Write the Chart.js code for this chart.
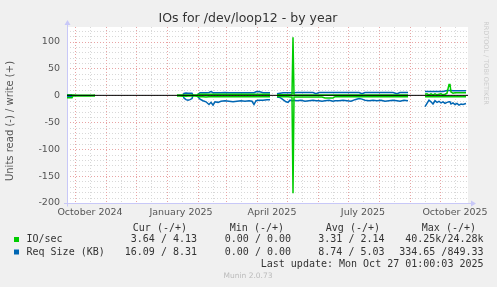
<!DOCTYPE html>
<html>
<head>
<meta charset="utf-8">
<script src="https://cdn.jsdelivr.net/npm/chart.js@4.4.1/dist/chart.umd.min.js"></script>
<style>
    html, body { margin: 0; padding: 0; background: #f0f0f0; }
    #wrap { width: 497px; height: 287px; }
</style>
</head>
<body>
<div id="wrap"><canvas id="ioChart" width="497" height="287"></canvas></div>

<script>
    // x = days since 23 Sep 2024, null = no data
    const days     = [0, 2, 5, 6, 10, 14, 18, 22, 26, 28, 60,
                      110, 113, 116, 117, 119, 121, 123, 125, 126, 128, 130,
                      131, 133, 136, 139, 142, 144, 146, 148, 151, 154, 158, 162, 166, 170, 174, 178, 182, 185, 187, 189, 192, 196, 200, 203, 206,
                      210, 213, 216, 219, 221, 223, 225, 226, 227, 230, 234, 238, 242, 246, 249, 252, 255, 258, 262, 266, 268, 272, 276, 280, 284, 288, 292, 295, 298, 302, 306, 310, 314, 318, 322, 326, 330, 333, 337, 341, 350,
                      358, 360, 362, 364, 366, 368, 370, 372, 374, 376, 378, 380, 382, 383, 384, 386, 388, 390, 392, 394, 396, 399];
    const ioWrite  = [0.5, 0.5, 0.5, 0.5, 0.3, 0.3, 0.3, 0.3, 0.3, 0.5, null,
                      0.5, 0.5, 0.5, 0.5, 0.8, 0.5, 0.6, 0.5, 0.5, 0.5, 0.5,
                      2, 2, 2, 2, 2, 2, 2, 2, 2, 2, 2, 2, 2, 2, 2, 2, 2, 2, 2, 2, 2, 2, 2, 2, null,
                      1, 1, 1, 1, 1, 1, 1, 108, 1, 0.5, 0.5, 0.5, 0.5, 0.5, 0.5, 0.5, 0.5, 0.5, 0.5, 0.5, 0.5, 0.5, 0.5, 0.5, 0.5, 0.5, 0.5, 0.5, 0.5, 0.5, 0.5, 0.5, 0.5, 0.5, 0.5, 0.5, 0.5, 0.5, 0.5, 0.5, null,
                      2, 3, 1, 3, 1, 3, 1, 2, 3, 1, 2, 4, 20, 20, 6, 4, 5, 5, 5, 5, 5, 5];
    const ioRead   = [-4.5, -4.5, -4.5, -1, -1, -1, -1, -1, -1.2, -1, null,
                      -1, -1, -1.5, -1, -1.5, -1, -1.2, -1, -1, -1, -1.5,
                      -2.5, -2.5, -2.5, -3, -2.5, -2.5, -2.5, -2.5, -2.5, -2.5, -2.5, -2.5, -2.5, -2.5, -2.5, -2.5, -2.5, -2.5, -2.5, -2.5, -2.5, -2.5, -2.5, -2.5, null,
                      -2, -2, -2.5, -2.5, -2.5, -3, -3, -182, -3, -3, -3, -3, -3, -3, -3, -3, -3, -5, -5, -5, -2.5, -2.5, -2.5, -2.5, -2.5, -2.5, -2.5, -2.5, -2.5, -2.5, -2.5, -2.5, -2.5, -2.5, -2.5, -2.5, -2.5, -2.5, -2.5, -2.5, null,
                      -2.5, -2.5, -2.5, -2.5, -2.5, -2.5, -2.5, -2.5, -2.5, -2.5, -2.5, -2.5, -2.5, -2.5, -2.5, -2.5, -2.5, -2.5, -2.5, -2.5, -2.5, -2.5];
    const reqWrite = [0.5, 0.5, 0.5, null, null, null, null, null, null, null, null,
                      null, null, 0, 3.5, 4.5, 4, 4, 4, 0, null, null,
                      2, 5, 5, 5, 5.5, 7, 5, 5, 5, 5, 5.5, 5, 5, 5, 5, 5, 5, 5, 5, 6.5, 7, 5, 5, 5, null,
                      3, 4, 5, 5, 5, 5, 5, 5, 5, 5.3, 5.3, 5.3, 5.3, 5.3, 3, 5.3, 5.3, 5.3, 5.3, 5.3, 5.3, 5.3, 5.3, 5.3, 5.3, 5.3, 5.3, 3, 5.3, 5.3, 5.3, 5.3, 5.3, 5.3, 5.3, 5.3, 3, 5.3, 5.3, 5.3, null,
                      7, 7, 7, 7, 7, 7, 7, 7, 7, 7, 8, 9, 9, 9, 9, 8.5, 8.5, 8.5, 8.5, 8.5, 8.5, 8.5];
    const reqRead  = [-2, -2, -1.5, null, null, null, null, null, null, null, null,
                      null, null, 0, -5, -8, -9, -8, -6, 0, null, null,
                      -3, -7, -10, -12, -17, -13, -18, -12, -13, -11, -10, -11, -12, -11, -10, -11, -10, -11, -17, -10, -9, -9, -8, -8, null,
                      -3, -4, -8, -12, -13, -9, -10, -10, -9, -10, -9, -11, -10, -9, -10, -10, -11, -10, -9, -11, -10, -10, -9, -10, -11, -8, -6, -7, -9, -10, -9, -10, -9, -11, -10, -9, -10, -11, -9, -10, null,
                      -21, -15, -9, -12, -16, -10, -13, -11, -14, -12, -15, -13, -12, -12, -16, -14, -17, -15, -18, -16, -17, -15];
    const zeroDays = [0, 401];
    const zeroVals = [0, 0];

    const yTicks      = [-200, -150, -100, -50, 0, 50, 100];
    const xLabelDays  = [23, 114, 205, 296, 388];
    const xLabels     = ['October 2024', 'January 2025', 'April 2025', 'July 2025', 'October 2025'];
    const monthStarts = [8, 39, 69, 100, 131, 159, 190, 220, 251, 281, 312, 343, 373];

    const legendHead = ['Cur (-/+)', 'Min (-/+)', 'Avg (-/+)', 'Max (-/+)'];
    const ioStats    = ['3.64 / 4.13', '0.00 / 0.00', '3.31 / 2.14', '40.25k/24.28k'];
    const reqStats   = ['16.09 / 8.31', '0.00 / 0.00', '8.74 / 5.03', '334.65 /849.33'];

    const GREEN = '#00cc00';
    const BLUE = '#0066b3';
    const SANS = "'DejaVu Sans', sans-serif";
    const MONO = "'DejaVu Sans Mono', monospace";

    const pts = (xs, vals) => xs.map((d, i) => ({ x: d, y: vals[i] }));

    function line(ctx, x1, y1, x2, y2) {
        ctx.beginPath();
        ctx.moveTo(x1, y1);
        ctx.lineTo(x2, y2);
        ctx.stroke();
    }

    const munin = {
        id: 'munin',
        beforeDatasetsDraw(chart) {
            const { ctx, chartArea: a, scales: { x, y } } = chart;
            ctx.save();
            ctx.fillStyle = '#ffffff';
            ctx.fillRect(a.left, a.top, a.right - a.left, a.bottom - a.top);
            ctx.lineWidth = 1;
            ctx.setLineDash([1, 2]);

            // minor grid
            ctx.strokeStyle = '#d8d8d8';
            for (let v = -190; v <= 120; v += 10) {
                if (v % 50 === 0) continue;
                const py = Math.round(y.getPixelForValue(v)) + 0.5;
                line(ctx, a.left, py, a.right, py);
            }
            monthStarts.forEach(m => {
                const px = Math.round(x.getPixelForValue(m + 15)) + 0.5;
                if (px < a.right) line(ctx, px, a.top, px, a.bottom);
            });

            // major grid
            ctx.strokeStyle = '#e8a4a4';
            yTicks.forEach(v => {
                const py = Math.round(y.getPixelForValue(v)) + 0.5;
                line(ctx, a.left, py, a.right, py);
            });
            monthStarts.forEach(m => {
                const px = Math.round(x.getPixelForValue(m)) + 0.5;
                line(ctx, px, a.top, px, a.bottom);
            });

            // axes with arrows
            ctx.setLineDash([]);
            ctx.strokeStyle = '#c8c8f8';
            ctx.fillStyle = '#c8c8f8';
            const ax = Math.round(a.left) + 0.5, ay = Math.round(a.bottom) + 0.5;
            line(ctx, ax, ay + 3, ax, a.top - 3);
            line(ctx, a.left - 3, ay, a.right + 4, ay);
            ctx.beginPath();
            ctx.moveTo(ax - 3, a.top - 2); ctx.lineTo(ax + 3, a.top - 2); ctx.lineTo(ax, a.top - 7); ctx.fill();
            ctx.beginPath();
            ctx.moveTo(a.right + 3, ay - 3); ctx.lineTo(a.right + 3, ay + 3); ctx.lineTo(a.right + 8, ay); ctx.fill();
            ctx.restore();
        },
        afterDraw(chart) {
            const { ctx } = chart;
            ctx.save();
            ctx.textBaseline = 'middle';

            ctx.fillStyle = '#333';
            ctx.font = '12.5px ' + SANS;
            ctx.textAlign = 'center';
            ctx.fillText('IOs for /dev/loop12 - by year', 248, 19);

            ctx.save();
            ctx.translate(10, 121);
            ctx.rotate(-Math.PI / 2);
            ctx.fillStyle = '#555';
            ctx.font = '10px ' + SANS;
            ctx.fillText('Units read (-) / write (+)', 0, 0);
            ctx.restore();

            ctx.save();
            ctx.translate(486, 63);
            ctx.rotate(Math.PI / 2);
            ctx.fillStyle = '#cccccc';
            ctx.font = '6.5px ' + SANS;
            ctx.fillText('RRDTOOL / TOBI OETIKER', 0, 0);
            ctx.restore();

            // legend table
            ctx.font = '10px ' + MONO;
            ctx.fillStyle = '#333';
            ctx.textAlign = 'right';
            const headRight = [187, 284, 380, 476];
            const valRight = [197, 291, 384.5, 483.5];
            legendHead.forEach((t, i) => ctx.fillText(t, headRight[i], 228));
            ioStats.forEach((t, i) => ctx.fillText(t, valRight[i], 239.5));
            reqStats.forEach((t, i) => ctx.fillText(t, valRight[i], 252));
            ctx.fillText('Last update: Mon Oct 27 01:00:03 2025', 483.5, 264);
            ctx.textAlign = 'left';
            ctx.fillText('IO/sec', 26.5, 239.5);
            ctx.fillText('Req Size (KB)', 26.5, 252);
            ctx.fillStyle = GREEN;
            ctx.fillRect(14, 237, 5, 5);
            ctx.fillStyle = BLUE;
            ctx.fillRect(14, 249.5, 5, 5);

            ctx.textAlign = 'center';
            ctx.fillStyle = '#bbbbbb';
            ctx.font = '7.5px ' + SANS;
            ctx.fillText('Munin 2.0.73', 248, 276);
            ctx.restore();
        }
    };

    const ctx = document.getElementById('ioChart').getContext('2d');
    new Chart(ctx, {
        type: 'line',
        data: {
            datasets: [
                { data: pts(zeroDays, zeroVals), borderColor: '#000000', borderWidth: 1 },
                { data: pts(days, ioWrite), borderColor: GREEN, borderWidth: 1.5 },
                { data: pts(days, ioRead), borderColor: GREEN, borderWidth: 1.5 },
                { data: pts(days, reqWrite), borderColor: BLUE, borderWidth: 1.5 },
                { data: pts(days, reqRead), borderColor: BLUE, borderWidth: 1.5 }
            ]
        },
        options: {
            responsive: false,
            animation: false,
            devicePixelRatio: 1,
            layout: { padding: { left: 0, right: 29, top: 27, bottom: 0 } },
            elements: { point: { radius: 0 }, line: { tension: 0, fill: false } },
            plugins: { legend: { display: false }, tooltip: { enabled: false } },
            scales: {
                x: {
                    type: 'linear', min: 0, max: 401,
                    grid: { display: false, drawTicks: false },
                    border: { display: false },
                    afterBuildTicks: s => { s.ticks = xLabelDays.map(v => ({ value: v })); },
                    afterFit: s => { s.height = 84; },
                    ticks: {
                        autoSkip: false, maxRotation: 0, padding: 4,
                        color: '#555', font: { family: 'DejaVu Sans', size: 9.5 },
                        callback: v => xLabels[xLabelDays.indexOf(v)]
                    }
                },
                y: {
                    type: 'linear', min: -200, max: 127,
                    grid: { display: false, drawTicks: false },
                    border: { display: false },
                    afterBuildTicks: s => { s.ticks = yTicks.map(v => ({ value: v })); },
                    afterFit: s => { s.width = 67; },
                    ticks: {
                        padding: 7,
                        color: '#555', font: { family: 'DejaVu Sans', size: 9.5 }
                    }
                }
            }
        },
        plugins: [munin]
    });
</script>
</body>
</html>
